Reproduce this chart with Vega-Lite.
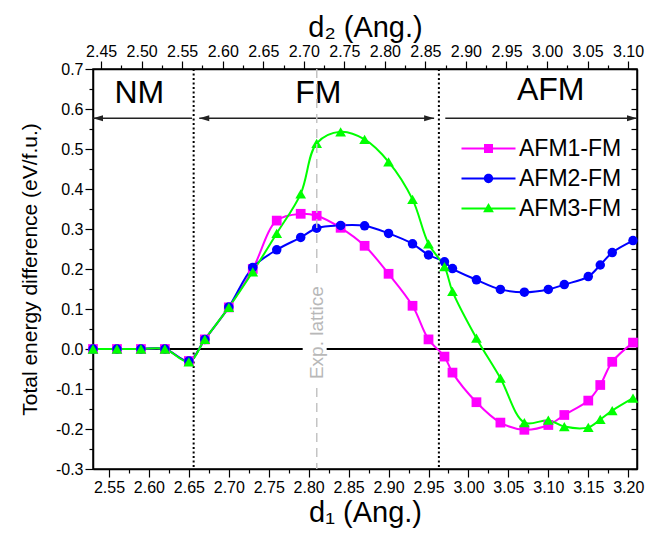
{
  "$schema": "https://vega.github.io/schema/vega-lite/v6.json",
  "width": 544,
  "height": 400,
  "autosize": {"type": "none"},
  "padding": {"left": 93, "top": 69, "right": 22, "bottom": 70},
  "config": {
    "font": "Liberation Sans",
    "view": {"stroke": "#000", "strokeWidth": 1.5},
    "axis": {"grid": false, "domainColor": "#000", "domainWidth": 1.5, "tickColor": "#000", "tickWidth": 1.2, "labelColor": "#000", "titleColor": "#000", "labelFontSize": 16, "titleFontWeight": "normal", "labelFont": "Liberation Sans", "titleFont": "Liberation Sans", "labelOverlap": false, "labelFlush": false}
  },
  "datasets": {
    "energy": [
      {"d1": 2.53, "series": "AFM1-FM", "E": 0}, {"d1": 2.56, "series": "AFM1-FM", "E": 0}, {"d1": 2.59, "series": "AFM1-FM", "E": 0}, {"d1": 2.62, "series": "AFM1-FM", "E": 0}, {"d1": 2.65, "series": "AFM1-FM", "E": -0.03}, {"d1": 2.67, "series": "AFM1-FM", "E": 0.024}, {"d1": 2.70, "series": "AFM1-FM", "E": 0.104}, {"d1": 2.73, "series": "AFM1-FM", "E": 0.2}, {"d1": 2.76, "series": "AFM1-FM", "E": 0.321}, {"d1": 2.79, "series": "AFM1-FM", "E": 0.338}, {"d1": 2.81, "series": "AFM1-FM", "E": 0.333}, {"d1": 2.84, "series": "AFM1-FM", "E": 0.303}, {"d1": 2.87, "series": "AFM1-FM", "E": 0.258}, {"d1": 2.90, "series": "AFM1-FM", "E": 0.188}, {"d1": 2.93, "series": "AFM1-FM", "E": 0.108}, {"d1": 2.95, "series": "AFM1-FM", "E": 0.024}, {"d1": 2.97, "series": "AFM1-FM", "E": -0.019}, {"d1": 2.98, "series": "AFM1-FM", "E": -0.059}, {"d1": 3.01, "series": "AFM1-FM", "E": -0.133}, {"d1": 3.04, "series": "AFM1-FM", "E": -0.184}, {"d1": 3.07, "series": "AFM1-FM", "E": -0.202}, {"d1": 3.10, "series": "AFM1-FM", "E": -0.19}, {"d1": 3.12, "series": "AFM1-FM", "E": -0.165}, {"d1": 3.15, "series": "AFM1-FM", "E": -0.129}, {"d1": 3.165, "series": "AFM1-FM", "E": -0.09}, {"d1": 3.18, "series": "AFM1-FM", "E": -0.032}, {"d1": 3.206, "series": "AFM1-FM", "E": 0.016},
      {"d1": 2.53, "series": "AFM2-FM", "E": 0}, {"d1": 2.56, "series": "AFM2-FM", "E": 0}, {"d1": 2.59, "series": "AFM2-FM", "E": 0}, {"d1": 2.62, "series": "AFM2-FM", "E": 0}, {"d1": 2.65, "series": "AFM2-FM", "E": -0.03}, {"d1": 2.67, "series": "AFM2-FM", "E": 0.024}, {"d1": 2.70, "series": "AFM2-FM", "E": 0.105}, {"d1": 2.73, "series": "AFM2-FM", "E": 0.204}, {"d1": 2.76, "series": "AFM2-FM", "E": 0.248}, {"d1": 2.79, "series": "AFM2-FM", "E": 0.279}, {"d1": 2.81, "series": "AFM2-FM", "E": 0.302}, {"d1": 2.84, "series": "AFM2-FM", "E": 0.309}, {"d1": 2.87, "series": "AFM2-FM", "E": 0.308}, {"d1": 2.90, "series": "AFM2-FM", "E": 0.289}, {"d1": 2.93, "series": "AFM2-FM", "E": 0.263}, {"d1": 2.95, "series": "AFM2-FM", "E": 0.235}, {"d1": 2.97, "series": "AFM2-FM", "E": 0.218}, {"d1": 2.98, "series": "AFM2-FM", "E": 0.201}, {"d1": 3.01, "series": "AFM2-FM", "E": 0.173}, {"d1": 3.04, "series": "AFM2-FM", "E": 0.149}, {"d1": 3.07, "series": "AFM2-FM", "E": 0.142}, {"d1": 3.10, "series": "AFM2-FM", "E": 0.149}, {"d1": 3.12, "series": "AFM2-FM", "E": 0.161}, {"d1": 3.15, "series": "AFM2-FM", "E": 0.181}, {"d1": 3.165, "series": "AFM2-FM", "E": 0.21}, {"d1": 3.18, "series": "AFM2-FM", "E": 0.241}, {"d1": 3.206, "series": "AFM2-FM", "E": 0.271},
      {"d1": 2.53, "series": "AFM3-FM", "E": 0}, {"d1": 2.56, "series": "AFM3-FM", "E": 0}, {"d1": 2.59, "series": "AFM3-FM", "E": 0}, {"d1": 2.62, "series": "AFM3-FM", "E": 0}, {"d1": 2.65, "series": "AFM3-FM", "E": -0.032}, {"d1": 2.67, "series": "AFM3-FM", "E": 0.024}, {"d1": 2.70, "series": "AFM3-FM", "E": 0.104}, {"d1": 2.73, "series": "AFM3-FM", "E": 0.193}, {"d1": 2.76, "series": "AFM3-FM", "E": 0.289}, {"d1": 2.79, "series": "AFM3-FM", "E": 0.388}, {"d1": 2.81, "series": "AFM3-FM", "E": 0.514}, {"d1": 2.84, "series": "AFM3-FM", "E": 0.543}, {"d1": 2.87, "series": "AFM3-FM", "E": 0.524}, {"d1": 2.90, "series": "AFM3-FM", "E": 0.468}, {"d1": 2.93, "series": "AFM3-FM", "E": 0.374}, {"d1": 2.95, "series": "AFM3-FM", "E": 0.263}, {"d1": 2.97, "series": "AFM3-FM", "E": 0.206}, {"d1": 2.98, "series": "AFM3-FM", "E": 0.144}, {"d1": 3.01, "series": "AFM3-FM", "E": 0.027}, {"d1": 3.04, "series": "AFM3-FM", "E": -0.073}, {"d1": 3.07, "series": "AFM3-FM", "E": -0.184}, {"d1": 3.10, "series": "AFM3-FM", "E": -0.178}, {"d1": 3.12, "series": "AFM3-FM", "E": -0.194}, {"d1": 3.15, "series": "AFM3-FM", "E": -0.196}, {"d1": 3.165, "series": "AFM3-FM", "E": -0.176}, {"d1": 3.18, "series": "AFM3-FM", "E": -0.154}, {"d1": 3.206, "series": "AFM3-FM", "E": -0.123}
    ],
    "zeroline": [{"d1": 2.53, "d1e": 2.7925, "E": 0}, {"d1": 2.8225, "d1e": 3.211, "E": 0}],
    "boundaries": [{"d1": 2.656, "E": 0.7, "E2": -0.3}, {"d1": 2.963, "E": 0.7, "E2": -0.3}],
    "arrows": [{"phase": "NM", "d1": 2.53, "d1e": 2.654, "E": 0.577}, {"phase": "FM", "d1": 2.663, "d1e": 2.957, "E": 0.577}, {"phase": "AFM", "d1": 2.971, "d1e": 3.211, "E": 0.577}],
    "arrowheads": [{"d1": 2.53, "E": 0.577, "dir": "left"}, {"d1": 2.663, "E": 0.577, "dir": "left"}, {"d1": 2.957, "E": 0.577, "dir": "right"}, {"d1": 3.211, "E": 0.577, "dir": "right"}],
    "phases": [{"label": "NM", "d1": 2.588, "E": 0.64}, {"label": "FM", "d1": 2.812, "E": 0.64}, {"label": "AFM", "d1": 3.103, "E": 0.647}],
    "lattice_text": [{"label": "Exp. lattice", "d1": 2.81, "E": 0.041}],
    "lattice_line": [{"d2": 2.716, "E": 0.7, "E2": 0.185}, {"d2": 2.716, "E": -0.0975, "E2": -0.3}]
  },
  "layer": [
    {
      "encoding": {
        "x": {
          "field": "d1", "type": "quantitative",
          "scale": {"domain": [2.53, 3.211], "nice": false, "zero": false},
          "axis": {
            "orient": "bottom",
            "title": "d₁ (Ang.)", "titleFontSize": 29, "titlePadding": 3,
            "values": [2.55, 2.575, 2.6, 2.625, 2.65, 2.675, 2.7, 2.725, 2.75, 2.775, 2.8, 2.825, 2.85, 2.875, 2.9, 2.925, 2.95, 2.975, 3.0, 3.025, 3.05, 3.075, 3.1, 3.125, 3.15, 3.175, 3.2],
            "labelExpr": "round(datum.value*40) % 2 === 0 ? format(datum.value, '.2f') : ''",
            "tickSize": {"condition": {"test": "round(datum.value*40) % 2 === 0", "value": 8}, "value": 4},
            "labelPadding": 2
          }
        },
        "y": {
          "field": "E", "type": "quantitative",
          "scale": {"domain": [-0.3, 0.7], "nice": false, "zero": false},
          "axis": {
            "orient": "left",
            "title": "Total energy difference (eV/f.u.)", "titleFontSize": 21, "titlePadding": 15,
            "values": [-0.3, -0.25, -0.2, -0.15, -0.1, -0.05, 0, 0.05, 0.1, 0.15, 0.2, 0.25, 0.3, 0.35, 0.4, 0.45, 0.5, 0.55, 0.6, 0.65, 0.7],
            "labelExpr": "abs(round(datum.value*20)) % 2 === 0 ? replace(format(datum.value, '.1f'), '−', '-') : ''",
            "tickSize": {"condition": {"test": "abs(round(datum.value*20)) % 2 === 0", "value": 8}, "value": 4},
            "labelPadding": 2
          }
        }
      },
      "layer": [
        {
          "data": {"name": "energy"},
          "transform": [{"filter": "datum.d1 === 2.53"}],
          "mark": {"type": "point", "filled": true, "opacity": 0},
          "encoding": {
            "color": {
              "field": "series", "type": "nominal",
              "scale": {"domain": ["AFM1-FM", "AFM2-FM", "AFM3-FM"], "range": ["#FF00FF", "#0000FF", "#00FF00"]},
              "legend": {"orient": "none", "legendX": 384, "legendY": 68, "title": null, "labelFontSize": 23, "labelFont": "Liberation Sans", "labelColor": "#000", "symbolSize": 225, "symbolOpacity": 1, "symbolStrokeWidth": 0, "labelOffset": 19, "rowPadding": 6, "padding": 0}
            },
            "shape": {
              "field": "series", "type": "nominal",
              "scale": {"domain": ["AFM1-FM", "AFM2-FM", "AFM3-FM"], "range": ["M-3.6,-0.13H3.6V0.13H-3.6Z M-0.6,-0.6H0.6V0.6H-0.6Z", "M-3.6,-0.13H3.6V0.13H-3.6Z M-0.62,0A0.62,0.62 0 1,1 0.62,0A0.62,0.62 0 1,1 -0.62,0Z", "M-3.6,-0.13H3.6V0.13H-3.6Z M0,-0.75L0.72,0.5H-0.72Z"]},
              "legend": {"orient": "none", "legendX": 384, "legendY": 68, "title": null, "labelFontSize": 23, "labelFont": "Liberation Sans", "labelColor": "#000", "symbolSize": 225, "symbolOpacity": 1, "symbolStrokeWidth": 0, "labelOffset": 19, "rowPadding": 6, "padding": 0}
            }
          }
        },
        {
          "data": {"name": "zeroline"},
          "mark": {"type": "rule", "color": "#000", "strokeWidth": 2},
          "encoding": {"x2": {"field": "d1e"}}
        },
        {
          "data": {"name": "boundaries"},
          "mark": {"type": "rule", "color": "#000", "strokeWidth": 2, "strokeDash": [2, 2.5]},
          "encoding": {"y2": {"field": "E2"}}
        },
        {
          "data": {"name": "arrows"},
          "mark": {"type": "rule", "color": "#222", "strokeWidth": 1.5},
          "encoding": {"x2": {"field": "d1e"}}
        },
        {
          "data": {"name": "arrowheads"},
          "transform": [{"filter": "datum.dir === 'left'"}],
          "mark": {"type": "point", "shape": "M0,0L2,-0.6L2,0.6Z", "size": 100, "filled": true, "color": "#222", "opacity": 1}
        },
        {
          "data": {"name": "arrowheads"},
          "transform": [{"filter": "datum.dir === 'right'"}],
          "mark": {"type": "point", "shape": "M0,0L-2,-0.6L-2,0.6Z", "size": 100, "filled": true, "color": "#222", "opacity": 1}
        },
        {
          "data": {"name": "phases"},
          "mark": {"type": "text", "fontSize": 32, "color": "#000", "align": "center", "baseline": "middle", "font": "Liberation Sans"},
          "encoding": {"text": {"field": "label"}}
        },
        {
          "data": {"name": "energy"},
          "mark": {"type": "line", "interpolate": "catmull-rom", "strokeWidth": 2},
          "encoding": {
            "color": {"field": "series", "type": "nominal"}
          }
        },
        {
          "data": {"name": "energy"},
          "transform": [{"filter": "datum.series === 'AFM1-FM'"}],
          "mark": {"type": "point", "shape": "square", "filled": true, "opacity": 1, "size": 95},
          "encoding": {"color": {"field": "series", "type": "nominal"}}
        },
        {
          "data": {"name": "energy"},
          "transform": [{"filter": "datum.series === 'AFM2-FM'"}],
          "mark": {"type": "point", "shape": "circle", "filled": true, "opacity": 1, "size": 90},
          "encoding": {"color": {"field": "series", "type": "nominal"}}
        },
        {
          "data": {"name": "energy"},
          "transform": [{"filter": "datum.series === 'AFM3-FM'"}],
          "mark": {"type": "point", "shape": "triangle-up", "filled": true, "opacity": 1, "size": 115},
          "encoding": {"color": {"field": "series", "type": "nominal"}}
        },
        {
          "data": {"name": "lattice_text"},
          "mark": {"type": "text", "fontSize": 19, "color": "#b8b8b8", "angle": 270, "align": "center", "baseline": "middle", "font": "Liberation Sans"},
          "encoding": {"text": {"field": "label"}}
        }
      ]
    },
    {
      "data": {"name": "lattice_line"},
      "mark": {"type": "rule", "color": "#c4c4c4", "strokeWidth": 1.5, "strokeDash": [9, 6]},
      "encoding": {
        "x": {
          "field": "d2", "type": "quantitative",
          "scale": {"domain": [2.44, 3.111], "nice": false, "zero": false},
          "axis": {
            "orient": "top",
            "title": "d₂ (Ang.)", "titleFontSize": 29, "titlePadding": 1,
            "values": [2.45, 2.475, 2.5, 2.525, 2.55, 2.575, 2.6, 2.625, 2.65, 2.675, 2.7, 2.725, 2.75, 2.775, 2.8, 2.825, 2.85, 2.875, 2.9, 2.925, 2.95, 2.975, 3.0, 3.025, 3.05, 3.075, 3.1],
            "labelExpr": "round(datum.value*40) % 2 === 0 ? format(datum.value, '.2f') : ''",
            "tickSize": {"condition": {"test": "round(datum.value*40) % 2 === 0", "value": 8}, "value": 4},
            "labelPadding": 2
          }
        },
        "y": {
          "field": "E", "type": "quantitative",
          "scale": {"domain": [-0.3, 0.7], "nice": false, "zero": false},
          "axis": {
            "orient": "right", "title": null, "labels": false,
            "values": [-0.3, -0.25, -0.2, -0.15, -0.1, -0.05, 0, 0.05, 0.1, 0.15, 0.2, 0.25, 0.3, 0.35, 0.4, 0.45, 0.5, 0.55, 0.6, 0.65, 0.7],
            "tickSize": -6
          }
        },
        "y2": {"field": "E2"}
      }
    }
  ],
  "resolve": {"scale": {"x": "independent"}, "axis": {"x": "independent", "y": "independent"}}
}
